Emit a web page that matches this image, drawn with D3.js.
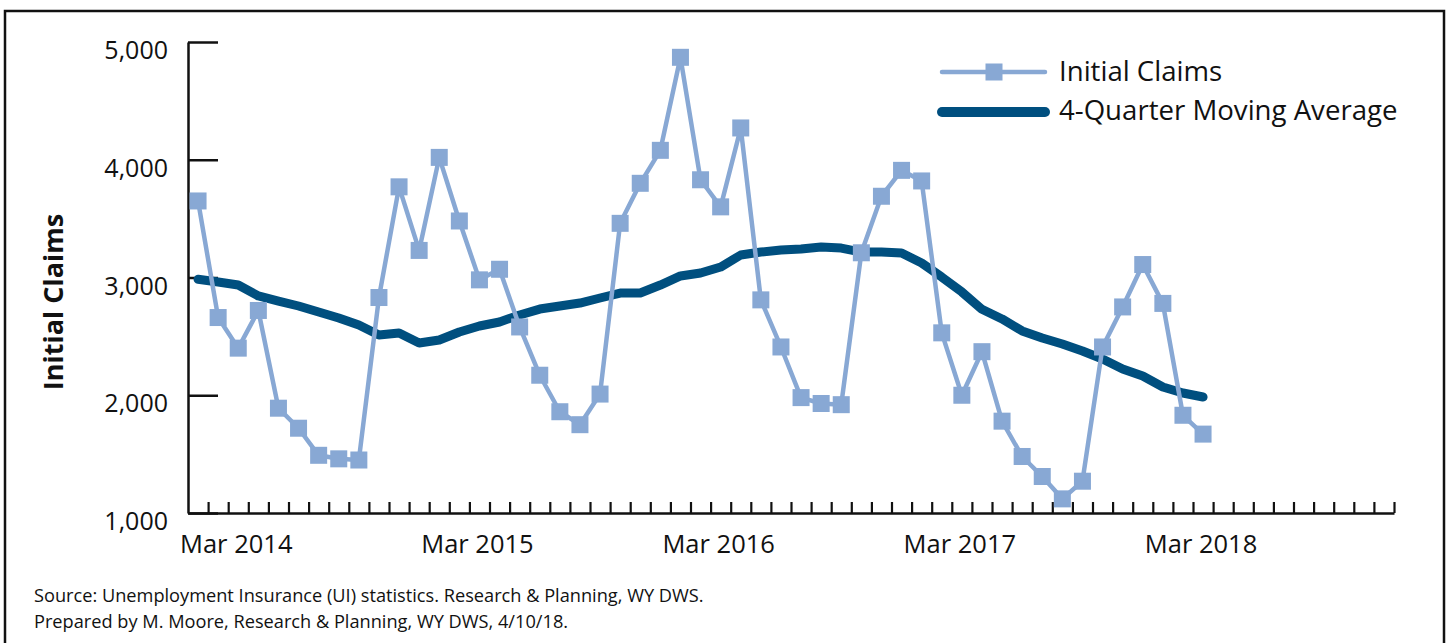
<!DOCTYPE html>
<html>
<head>
<meta charset="UTF-8">
<title>Initial Claims</title>
<script src="https://d3js.org/d3.v7.min.js"></script>
<style>
  body { margin: 0; background: #fff; }
  text { font-family: "Open Sans", sans-serif; fill: #111; }
</style>
</head>
<body>
<div id="chart"></div>
<script>
// monthly data, Jan 2014 - Mar 2018
var months = ["Jan 2014","Feb 2014","Mar 2014","Apr 2014","May 2014","Jun 2014","Jul 2014","Aug 2014","Sep 2014","Oct 2014","Nov 2014","Dec 2014",
              "Jan 2015","Feb 2015","Mar 2015","Apr 2015","May 2015","Jun 2015","Jul 2015","Aug 2015","Sep 2015","Oct 2015","Nov 2015","Dec 2015",
              "Jan 2016","Feb 2016","Mar 2016","Apr 2016","May 2016","Jun 2016","Jul 2016","Aug 2016","Sep 2016","Oct 2016","Nov 2016","Dec 2016",
              "Jan 2017","Feb 2017","Mar 2017","Apr 2017","May 2017","Jun 2017","Jul 2017","Aug 2017","Sep 2017","Oct 2017","Nov 2017","Dec 2017",
              "Jan 2018","Feb 2018","Mar 2018"];

var initialClaims = [3650, 2660, 2400, 2720, 1890, 1720, 1490, 1460, 1450, 2830, 3770, 3230,
                     4020, 3480, 2980, 3070, 2580, 2170, 1860, 1750, 2010, 3460, 3800, 4080,
                     4870, 3830, 3600, 4270, 2810, 2410, 1980, 1930, 1920, 3210, 3690, 3910,
                     3820, 2530, 2000, 2370, 1780, 1480, 1310, 1120, 1270, 2410, 2750, 3110,
                     2780, 1830, 1670];

var movingAvg = [2985, 2962, 2936, 2843, 2800, 2758, 2707, 2656, 2597, 2512, 2529, 2444,
                 2469, 2537, 2588, 2622, 2682, 2732, 2758, 2783, 2826, 2868, 2868, 2936,
                 3013, 3038, 3089, 3191, 3216, 3233, 3242, 3259, 3250, 3216, 3216, 3208,
                 3123, 3004, 2877, 2730, 2648, 2546, 2486, 2435, 2376, 2308, 2223, 2163,
                 2070, 2019, 1985];

var xLabels = ["Mar 2014", "Mar 2015", "Mar 2016", "Mar 2017", "Mar 2018"];
var yTicks = [1000, 2000, 3000, 4000, 5000];
var seriesNames = ["Initial Claims", "4-Quarter Moving Average"];

var lightBlue = "#88a8d4", darkBlue = "#004f7f";

var width = 1448, height = 643;

var svg = d3.select("#chart").append("svg")
    .attr("width", width)
    .attr("height", height);

// outer frame
svg.append("rect")
    .attr("x", 5).attr("y", 11)
    .attr("width", 1439).attr("height", 645)
    .attr("fill", "none")
    .attr("stroke", "#111")
    .attr("stroke-width", 2.5);

// x axis runs out to Dec 2018
var fmt = d3.timeFormat("%b %Y");
var axisMonths = d3.timeMonth.range(new Date(2014, 0, 1), new Date(2019, 0, 1)).map(fmt);

var x = d3.scaleBand().domain(axisMonths).range([188, 1394]);
var xEdges = d3.scaleLinear().domain([0, axisMonths.length]).range([188, 1394]);
var y = d3.scaleLinear().domain([1000, 5000]).range([513, 42]);

// x axis: ticks on month boundaries, pointing up
svg.append("g")
    .attr("transform", "translate(0,513)")
    .call(d3.axisBottom(xEdges)
        .tickValues(d3.range(1, axisMonths.length + 1))
        .tickSize(-11)
        .tickSizeOuter(0)
        .tickFormat(""))
    .call(function(g) {
        g.select(".domain").attr("stroke", "#111").attr("stroke-width", 2.5);
        g.selectAll(".tick line").attr("stroke", "#111").attr("stroke-width", 2.2);
    });

svg.append("g").selectAll("text")
    .data(xLabels)
    .enter().append("text")
    .attr("x", function(d) { return x(d) + x.bandwidth() / 2 - 2; })
    .attr("y", 553)
    .attr("text-anchor", "middle")
    .style("font-size", "25.5px")
    .text(function(d) { return d; });

// y axis: ticks pointing right
svg.append("g")
    .attr("transform", "translate(188,0)")
    .call(d3.axisRight(y)
        .tickValues(yTicks)
        .tickSize(30)
        .tickSizeOuter(0)
        .tickFormat(""))
    .call(function(g) {
        g.select(".domain").attr("stroke", "#111").attr("stroke-width", 2.5);
        g.selectAll(".tick line").attr("stroke", "#111").attr("stroke-width", 2.5);
    });

svg.append("g").selectAll("text")
    .data(yTicks)
    .enter().append("text")
    .attr("x", 168)
    .attr("y", function(d) { return y(d) + 17; })
    .attr("text-anchor", "end")
    .style("font-size", "25px")
    .text(function(d) { return d3.format(",")(d); });

svg.append("text")
    .attr("transform", "translate(63,302) rotate(-90)")
    .attr("text-anchor", "middle")
    .style("font-size", "27px")
    .style("font-weight", "bold")
    .text("Initial Claims");

// moving average
var line = function(vals) {
    return d3.line()
        .x(function(d, i) { return x(months[i]) + x.bandwidth() / 2; })
        .y(function(d) { return y(d); })(vals);
};

svg.append("path")
    .attr("d", line(movingAvg))
    .attr("fill", "none")
    .attr("stroke", darkBlue)
    .attr("stroke-width", 9)
    .attr("stroke-linejoin", "round")
    .attr("stroke-linecap", "round");

// initial claims
svg.append("path")
    .attr("d", line(initialClaims))
    .attr("fill", "none")
    .attr("stroke", lightBlue)
    .attr("stroke-width", 4.5)
    .attr("stroke-linejoin", "round");

var m = 17;
svg.append("g").selectAll("rect")
    .data(initialClaims)
    .enter().append("rect")
    .attr("x", function(d, i) { return x(months[i]) + x.bandwidth() / 2 - m / 2; })
    .attr("y", function(d) { return y(d) - m / 2; })
    .attr("width", m).attr("height", m)
    .attr("fill", lightBlue);

// legend
var legend = svg.append("g");
legend.append("line")
    .attr("x1", 942).attr("x2", 1045).attr("y1", 72).attr("y2", 72)
    .attr("stroke", lightBlue).attr("stroke-width", 4.5).attr("stroke-linecap", "round");
legend.append("rect")
    .attr("x", 994 - m / 2).attr("y", 72 - m / 2)
    .attr("width", m).attr("height", m)
    .attr("fill", lightBlue);
legend.append("line")
    .attr("x1", 942).attr("x2", 1045).attr("y1", 112).attr("y2", 112)
    .attr("stroke", darkBlue).attr("stroke-width", 10).attr("stroke-linecap", "round");
legend.selectAll("text")
    .data(seriesNames)
    .enter().append("text")
    .attr("x", 1059)
    .attr("y", function(d, i) { return 81 + i * 39; })
    .style("font-size", "27.6px")
    .text(function(d) { return d; });

// source notes
svg.append("text")
    .attr("x", 34).attr("y", 602)
    .style("font-size", "18.2px")
    .text("Source: Unemployment Insurance (UI) statistics. Research & Planning, WY DWS.");
svg.append("text")
    .attr("x", 34).attr("y", 628)
    .style("font-size", "18.2px")
    .text("Prepared by M. Moore, Research & Planning, WY DWS, 4/10/18.");
</script>
</body>
</html>
